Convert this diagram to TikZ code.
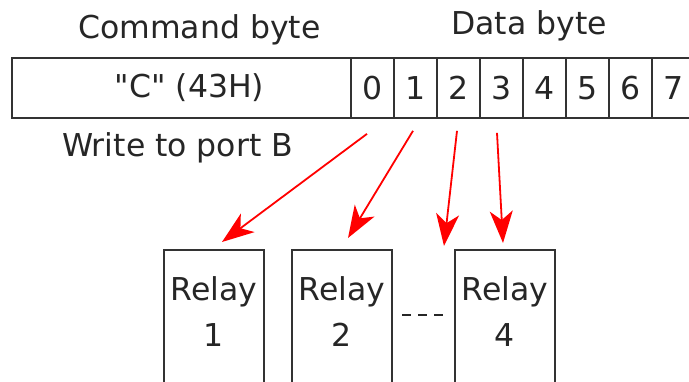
\documentclass[tikz,border=0pt]{standalone}
\usepackage{fontspec}
\setmainfont{DejaVu Sans}[Ligatures=TeXOff]
\usetikzlibrary{arrows.meta}
\begin{document}
\begin{tikzpicture}[x=1pt,y=-1pt,
  txt/.style={font=\fontsize{31.5}{46}\selectfont, text=black!85, inner sep=0pt},
  cell/.style={txt, draw=black!80, line width=1.7pt, minimum width=43pt, minimum height=60pt},
  relay/.style={txt, draw=black!80, line width=2pt, minimum width=100pt, align=center, anchor=north, text height=97pt, text depth=100pt},
  sig/.style={red, line width=1.8pt, -{Stealth[length=32pt, width=23pt, inset=9pt]}},
  dots/.style={black!85, line width=1.8pt, dash pattern=on 9pt off 7pt}]
\useasboundingbox (0,0) rectangle (689,382);
\clip (0,0) rectangle (689,382);
% headings
\node[txt, anchor=base west] (hcmd) at (78,39) {Command byte};
\node[txt, anchor=base west] (hdata) at (451,35) {Data byte};
\node[txt, anchor=base west] (hwrite) at (62,157) {Write to port B};
% byte cells
\node[cell, minimum width=339pt] (cmd) at (181.5,88) {\hspace*{16pt}"C" (43H)};
\foreach \i in {0,...,7} {
  \node[cell] (c\i) at (372.5+43*\i,88) {\i};
}
% relays
\node[relay] (r1) at (214,249) {Relay\\1};
\node[relay] (r2) at (342,249) {Relay\\2};
\node[relay] (r4) at (505,249) {Relay\\4};
\coordinate (d1) at (402,315);
\coordinate (d2) at (443,315);
\draw[dots] (d1) -- (d2);
% signals
\coordinate (t3) at (444,246);
\draw[sig] ([shift={(-5.5,15)}]c0.south) -- ([shift={(8,-7)}]r1.north);
\draw[sig] ([shift={(-2.5,12)}]c1.south) -- ([shift={(6,-11)}]r2.north);
\draw[sig] ([shift={(-1.5,12)}]c2.south) -- (t3);
\draw[sig] ([shift={(-4.5,14)}]c3.south) -- ([shift={(-2,-6)}]r4.north);
\end{tikzpicture}
\end{document}
